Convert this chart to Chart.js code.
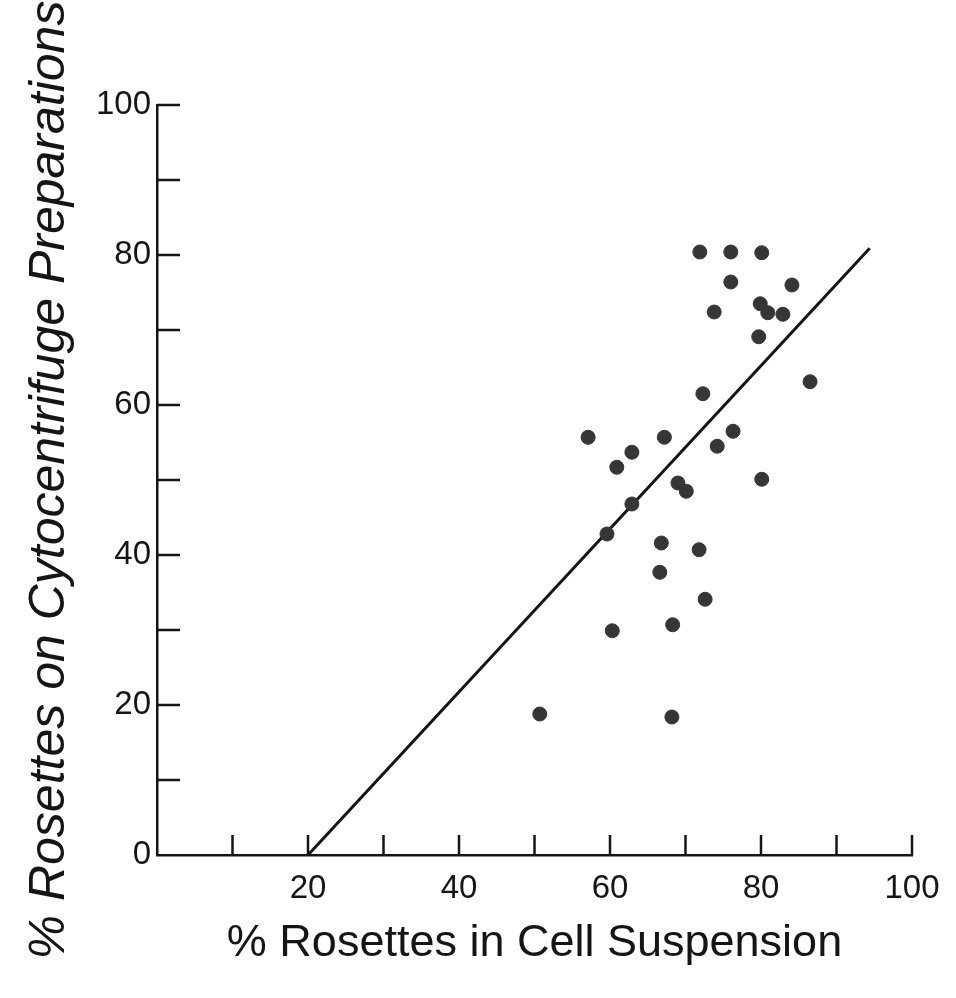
<!DOCTYPE html>
<html>
<head>
<meta charset="utf-8">
<script src="https://cdn.jsdelivr.net/npm/chart.js@4.4.1/dist/chart.umd.min.js"></script>
<style>
  html, body { margin: 0; padding: 0; background: #fff; }
  #wrap { width: 956px; height: 998px; position: relative; }
</style>
</head>
<body>
<div id="wrap"><canvas id="myChart"></canvas></div>
<script>
// % rosettes in cell suspension (x) vs % rosettes on cytocentrifuge preparations (y)
const suspension = [71.9, 76.0, 80.1, 76.0, 84.1, 73.8, 79.9, 80.9, 82.9, 79.7, 86.5, 72.3, 57.1, 62.9, 60.9, 67.2,
    74.2, 76.3, 80.1, 69.0, 70.1, 62.9, 59.6, 66.8, 71.8, 66.6, 72.6, 60.3, 68.3, 50.7, 68.2];
const cytocentrifuge = [80.4, 80.4, 80.3, 76.4, 76.0, 72.4, 73.5, 72.3, 72.1, 69.1, 63.1, 61.5, 55.7, 53.7, 51.7, 55.7,
    54.5, 56.5, 50.1, 49.6, 48.5, 46.8, 42.8, 41.6, 40.7, 37.7, 34.1, 29.9, 30.7, 18.8, 18.4];

// regression line end points
const fitX = [20, 94.4];
const fitY = [0, 80.9];

// tick marks every 10, labels every 20
const xMarks = [10, 20, 30, 40, 50, 60, 70, 80, 90, 100];
const yMarks = [10, 20, 30, 40, 50, 60, 70, 80, 90, 100];

const points = suspension.map((v, i) => ({ x: v, y: cytocentrifuge[i] }));
const fitLine = fitX.map((v, i) => ({ x: v, y: fitY[i] }));

Chart.defaults.font.family = "'Liberation Sans', Arial, sans-serif";
Chart.defaults.color = '#151515';

// inward tick marks, like the hand drawn axes
const tickMarks = {
    id: 'tickMarks',
    afterDraw(chart) {
        const { ctx, chartArea, scales: { x, y } } = chart;
        ctx.save();
        ctx.strokeStyle = '#151515';
        ctx.lineWidth = 2.5;
        xMarks.forEach(v => {
            const px = x.getPixelForValue(v);
            ctx.beginPath();
            ctx.moveTo(px, chartArea.bottom);
            ctx.lineTo(px, chartArea.bottom - 20);
            ctx.stroke();
        });
        yMarks.forEach(v => {
            const py = y.getPixelForValue(v);
            ctx.beginPath();
            ctx.moveTo(chartArea.left, py);
            ctx.lineTo(chartArea.left + 23, py);
            ctx.stroke();
        });
        ctx.restore();
    }
};

const ctx = document.getElementById('myChart').getContext('2d');

const chart = new Chart(ctx, {
    type: 'scatter',
    data: {
        datasets: [
            {
                label: 'Samples',
                data: points,
                backgroundColor: '#363636',
                borderColor: '#363636',
                pointRadius: 7,
                pointHoverRadius: 7
            },
            {
                label: 'Fit',
                data: fitLine,
                type: 'line',
                showLine: true,
                borderColor: '#151515',
                borderWidth: 3,
                pointRadius: 0,
                fill: false
            }
        ]
    },
    options: {
        responsive: true,
        maintainAspectRatio: false,
        animation: false,
        layout: { padding: { top: 105, right: 44, left: 0, bottom: 0 } },
        plugins: {
            legend: { display: false },
            tooltip: { enabled: false }
        },
        scales: {
            x: {
                type: 'linear',
                min: 0,
                max: 100,
                afterFit: s => { s.height = 143; },
                grid: { display: false, drawTicks: false },
                border: { display: true, color: '#151515', width: 2.5 },
                ticks: {
                    stepSize: 20,
                    padding: 14,
                    font: { size: 33 },
                    callback: v => (v === 0 ? '' : v)
                },
                title: {
                    display: true,
                    text: '% Rosettes in Cell Suspension',
                    font: { size: 45 },
                    padding: { top: 0, bottom: 27 }
                }
            },
            y: {
                type: 'linear',
                min: 0,
                max: 100,
                afterFit: s => { s.width = 157; },
                grid: { display: false, drawTicks: false },
                border: { display: true, color: '#151515', width: 2.5 },
                ticks: {
                    stepSize: 20,
                    padding: 6,
                    font: { size: 33 }
                },
                title: {
                    display: true,
                    text: '% Rosettes on Cytocentrifuge Preparations',
                    font: { size: 50, style: 'italic' },
                    padding: { top: 20, bottom: 0 }
                }
            }
        }
    },
    plugins: [tickMarks]
});
</script>
</body>
</html>
